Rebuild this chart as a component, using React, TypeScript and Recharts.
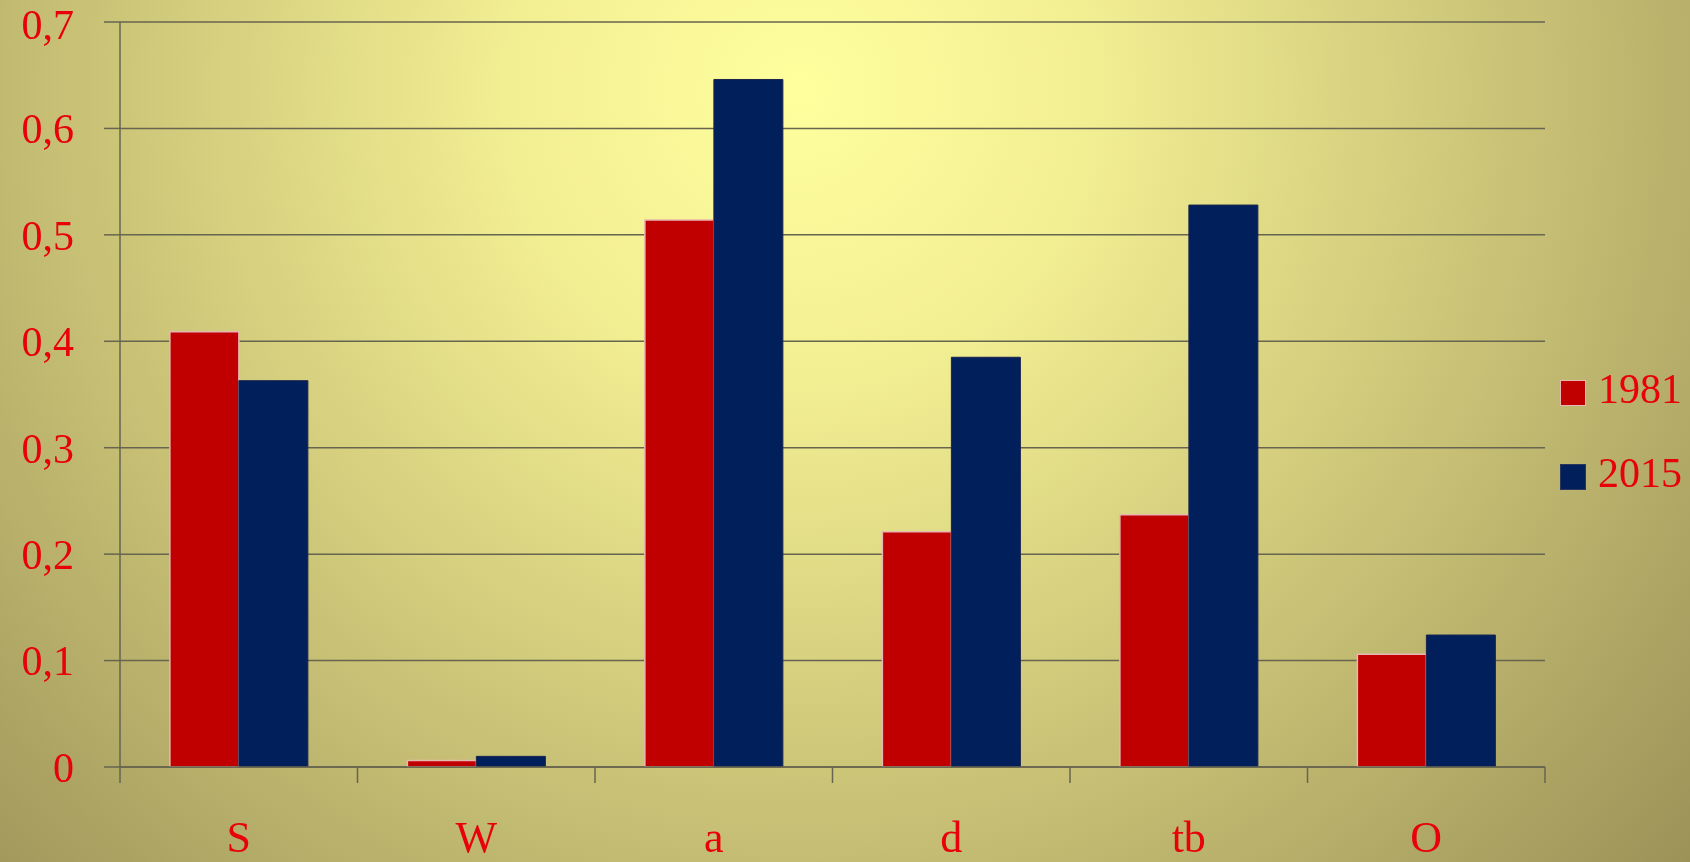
import React from 'react';
import { BarChart, Bar, XAxis, YAxis, CartesianGrid, Legend } from 'recharts';

const categories = ['S', 'W', 'a', 'd', 'tb', 'O'];
const values1981 = [0.409, 0.006, 0.514, 0.221, 0.237, 0.106];
const values2015 = [0.363, 0.01, 0.646, 0.385, 0.528, 0.124];
const yTicks = [0, 0.1, 0.2, 0.3, 0.4, 0.5, 0.6, 0.7];
const seriesNames = ['1981', '2015'];

const data = categories.map((c) => ({ name: c }));
categories.forEach((c, i) => {
  (data[i] as any)['1981'] = values1981[i];
  (data[i] as any)['2015'] = values2015[i];
});

const RED = '#C00000';
const BLUE = '#001F5B';
const TEXT = '#E8000B';
const AXIS = '#67654F';
const FONT = '"Liberation Serif", "DejaVu Serif", serif';
const X_TICK_MARGIN = 54;
const X_TICK_LEN = 16;

const fmt = (v: number) => (v === 0 ? '0' : v.toFixed(1).replace('.', ','));

const CatTick = (props: any) => {
  const { x, y, payload, index, width, visibleTicksCount } = props;
  const half = width / visibleTicksCount / 2;
  const axisY = y - X_TICK_MARGIN;
  const isLast = index === visibleTicksCount - 1;
  return (
    <g>
      <line x1={x - half} x2={x - half} y1={axisY} y2={axisY + X_TICK_LEN} stroke={AXIS} strokeWidth={1.5} />
      {isLast && (
        <line x1={x + half} x2={x + half} y1={axisY} y2={axisY + X_TICK_LEN} stroke={AXIS} strokeWidth={1.5} />
      )}
      <text x={x} y={y} dy="0.71em" textAnchor="middle" fill={TEXT} fontSize={44} fontFamily={FONT}>
        {payload.value}
      </text>
    </g>
  );
};

const LegendContent = () => (
  <div style={{ fontFamily: FONT }}>
    {seriesNames.map((n, i) => (
      <div key={n} style={{ display: 'flex', alignItems: 'flex-end', height: 28, marginBottom: i === 0 ? 56 : 0 }}>
        <div
          style={{
            width: 26,
            height: 26,
            background: i === 0 ? RED : BLUE,
            border: i === 0 ? '1px solid #E8B8B0' : '1px solid #2a3560',
            boxSizing: 'border-box',
          }}
        />
        <span style={{ color: TEXT, fontSize: 42, lineHeight: '34px', marginLeft: 12, height: 34 }}>{n}</span>
      </div>
    ))}
  </div>
);

export default function App() {
  return (
    <div
      style={{
        position: 'fixed',
        left: 0,
        top: 0,
        width: 1690,
        height: 862,
        background: 'radial-gradient(circle farthest-corner at 800px 90px, #FFFF9E 0%, #F2EE92 25%, #9C9258 100%)',
      }}
    >
      <style>{'body{margin:0}'}</style>
      <BarChart
        width={1690}
        height={862}
        data={data}
        margin={{ top: 22, right: 145, left: 0, bottom: 0 }}
        barCategoryGap="21%"
        barGap={0}
      >
        <CartesianGrid vertical={false} stroke={AXIS} strokeWidth={1.5} />
        <XAxis
          dataKey="name"
          tickLine={false}
          axisLine={{ stroke: AXIS, strokeWidth: 1.5 }}
          tickSize={0}
          tickMargin={X_TICK_MARGIN}
          height={95}
          tick={<CatTick />}
          interval={0}
        />
        <YAxis
          domain={[0, 0.7]}
          ticks={yTicks}
          tickFormatter={fmt}
          width={120}
          tickSize={16}
          tickMargin={30}
          tickLine={{ stroke: AXIS, strokeWidth: 1.5 }}
          axisLine={{ stroke: AXIS, strokeWidth: 1.5 }}
          tick={{ fill: TEXT, fontSize: 42, fontFamily: FONT }}
          allowDataOverflow
        />
        <Legend
          layout="vertical"
          align="center"
          verticalAlign="middle"
          wrapperStyle={{ left: 1560, top: 378, width: 130 }}
          content={() => <LegendContent />}
        />
        <Bar dataKey="1981" fill={RED} stroke="#E8B8B0" strokeWidth={1.5} isAnimationActive={false} />
        <Bar dataKey="2015" fill={BLUE} stroke="#1a2550" strokeWidth={1} isAnimationActive={false} />
      </BarChart>
    </div>
  );
}
